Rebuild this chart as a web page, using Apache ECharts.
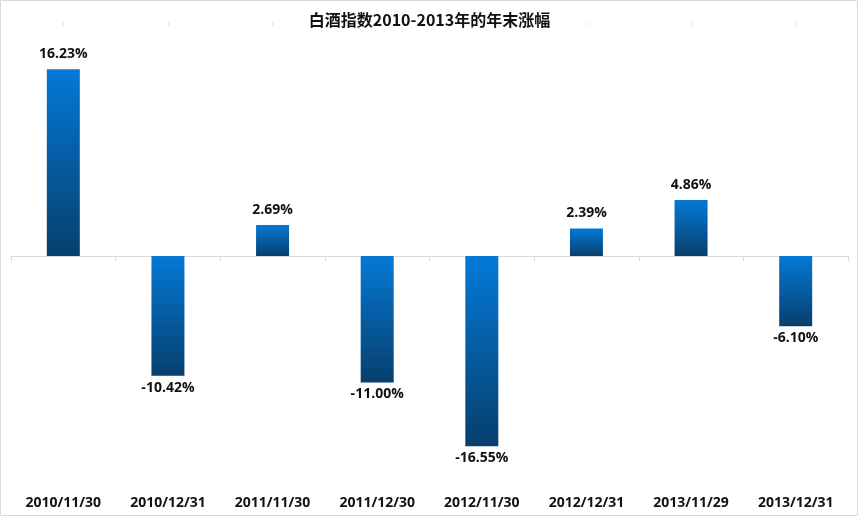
<!DOCTYPE html>
<html><head><meta charset="utf-8">
<script src="https://cdn.jsdelivr.net/npm/echarts@6/dist/echarts.min.js"></script>
<style>html,body{margin:0;padding:0;background:#fff}#c{width:859px;height:517px}</style>
</head><body><div id="c"></div>
<script>
const categories = ['2010/11/30','2010/12/31','2011/11/30','2011/12/30','2012/11/30','2012/12/31','2013/11/29','2013/12/31'];
const values = [16.23, -10.42, 2.69, -11.00, -16.55, 2.39, 4.86, -6.10];
const titleText = '白酒指数2010-2013年的年末涨幅';

const chart = echarts.init(document.getElementById('c'));
const grad = new echarts.graphic.LinearGradient(0,0,0,1,[{offset:0,color:'#0479D6'},{offset:1,color:'#073F6D'}]);
const fontFam = '"Open Sans","Noto Sans CJK SC",sans-serif';
chart.setOption({
  backgroundColor:'#fff',
  animation:false,
  title:{text:titleText,left:'center',top:7,textStyle:{fontFamily:'"Noto Sans CJK SC",sans-serif',fontSize:16,fontWeight:'bold',color:'#111'}},
  graphic:[{type:'rect',shape:{x:0.5,y:0.5,width:857,height:515},style:{fill:'none',stroke:'#d9d9d9',lineWidth:1},silent:true}],
  grid:{left:11,right:11,top:26,bottom:31},
  xAxis:[
    {type:'category',data:categories,axisLine:{onZero:true,lineStyle:{color:'#d9d9d9'}},
     axisTick:{show:true,length:5,lineStyle:{color:'#d9d9d9'}},axisLabel:{show:false}},
    {type:'category',data:categories,position:'bottom',axisLine:{show:false},axisTick:{show:false},
     axisLabel:{show:true,margin:10,fontFamily:fontFam,fontSize:14,fontWeight:'bold',color:'#111'}},
    {type:'category',data:categories,axisLine:{onZero:true,show:false},
     axisTick:{show:true,alignWithLabel:true,length:4,lineStyle:{color:'#e6e6e6'}},axisLabel:{show:false}}
  ],
  yAxis:{type:'value',min:-20,max:20,show:false,splitLine:{show:false}},
  series:[{type:'bar',xAxisIndex:0,barWidth:33,
    data:values.map(v=>({value:v,label:{position:v>=0?'top':'bottom',distance:v>=0?8:5}})),
    itemStyle:{color:grad},
    label:{show:true,formatter:p=>p.value.toFixed(2)+'%',fontFamily:fontFam,fontSize:14,fontWeight:'bold',color:'#111'}
  }]
});
</script></body></html>
